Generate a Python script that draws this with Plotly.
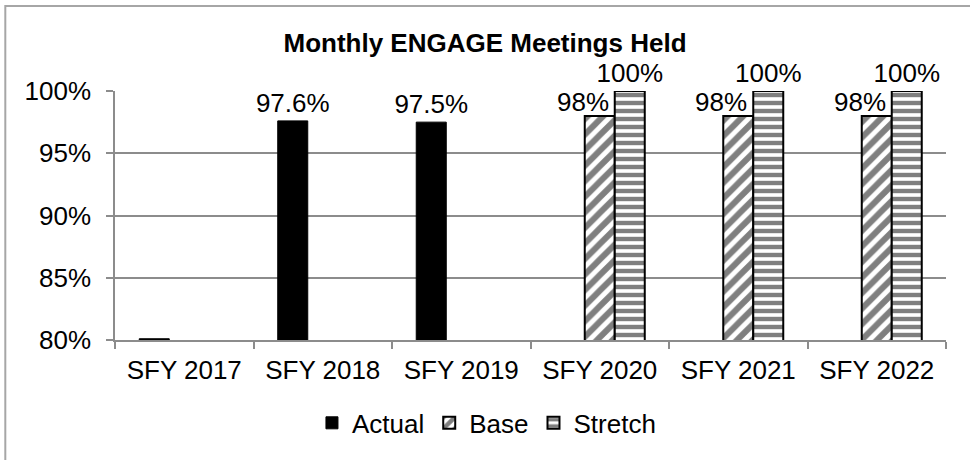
"""
Monthly ENGAGE meetings held: actual results vs. base and stretch targets.
"""

import plotly.graph_objects as go

years = ["SFY 2017", "SFY 2018", "SFY 2019", "SFY 2020", "SFY 2021", "SFY 2022"]
actual = [80.1, 97.6, 97.5, None, None, None]
actual_labels = ["", "97.6%", "97.5%", "", "", ""]
base = [None, None, None, 98, 98, 98]
stretch = [None, None, None, 100, 100, 100]

FONT = "Liberation Sans, Arial, sans-serif"
GRID = "#8c8c8c"
SIZE = 26

fig = go.Figure()
fig.add_trace(go.Bar(
    x=years, y=actual, name="Actual",
    marker=dict(color="black", line=dict(color="black", width=1)),
    text=actual_labels, textposition="outside",
))
fig.add_trace(go.Bar(
    x=years, y=base, name="Base",
    marker=dict(color="white", line=dict(color="black", width=2),
                pattern=dict(shape="/", fgcolor="black", bgcolor="white", size=11, solidity=0.55)),
))
fig.add_trace(go.Bar(
    x=years, y=stretch, name="Stretch",
    marker=dict(color="white", line=dict(color="black", width=2),
                pattern=dict(shape="-", fgcolor="black", bgcolor="white", size=8, solidity=0.55)),
    text=[f"{v}%" if v else "" for v in stretch], textposition="outside",
))
fig.update_traces(cliponaxis=False, constraintext="none",
                  textfont=dict(family=FONT, size=SIZE, color="black"))

# base labels sit a little left of their bars so they clear the stretch labels
for yr, v in zip(years, base):
    if v is not None:
        fig.add_annotation(x=yr, y=v, text=f"{v}%", showarrow=False, yanchor="bottom",
                           xshift=-17, yshift=-3, font=dict(family=FONT, size=SIZE, color="black"))

fig.update_layout(
    width=970, height=460,
    margin=dict(l=115, r=24, t=91, b=120),
    paper_bgcolor="white", plot_bgcolor="white",
    font=dict(family=FONT, size=SIZE, color="black"),
    title=dict(text="<b>Monthly ENGAGE Meetings Held</b>", x=0.5, xanchor="center",
               y=0.906, yanchor="middle", font=dict(size=SIZE)),
    barmode="group", bargap=0.35, bargroupgap=0,
    showlegend=True,
    legend=dict(orientation="h", x=0.447, xanchor="center", y=-0.333, yanchor="middle",
                font=dict(size=SIZE), traceorder="normal"),
    xaxis=dict(showline=True, linecolor=GRID, linewidth=1.5, ticks="outside", tickson="boundaries",
               ticklen=7, tickcolor=GRID, tickwidth=1.5, automargin=False, ticklabelstandoff=6),
    yaxis=dict(range=[80, 100], dtick=5, ticksuffix="%", showgrid=True, gridcolor=GRID, gridwidth=1.5,
               showline=True, linecolor=GRID, linewidth=1.5, ticks="outside", ticklen=7,
               tickcolor=GRID, tickwidth=1.5, zeroline=False, automargin=False, ticklabelstandoff=10),
    shapes=[dict(type="rect", xref="paper", yref="paper", x0=-0.132, x1=1.2, y0=-0.6, y1=1.341,
                 line=dict(color="#a6a6a6", width=2), layer="below")],
)

fig.write_html("out.html", config={"displayModeBar": False},
               post_script="document.body.style.margin='0';")
